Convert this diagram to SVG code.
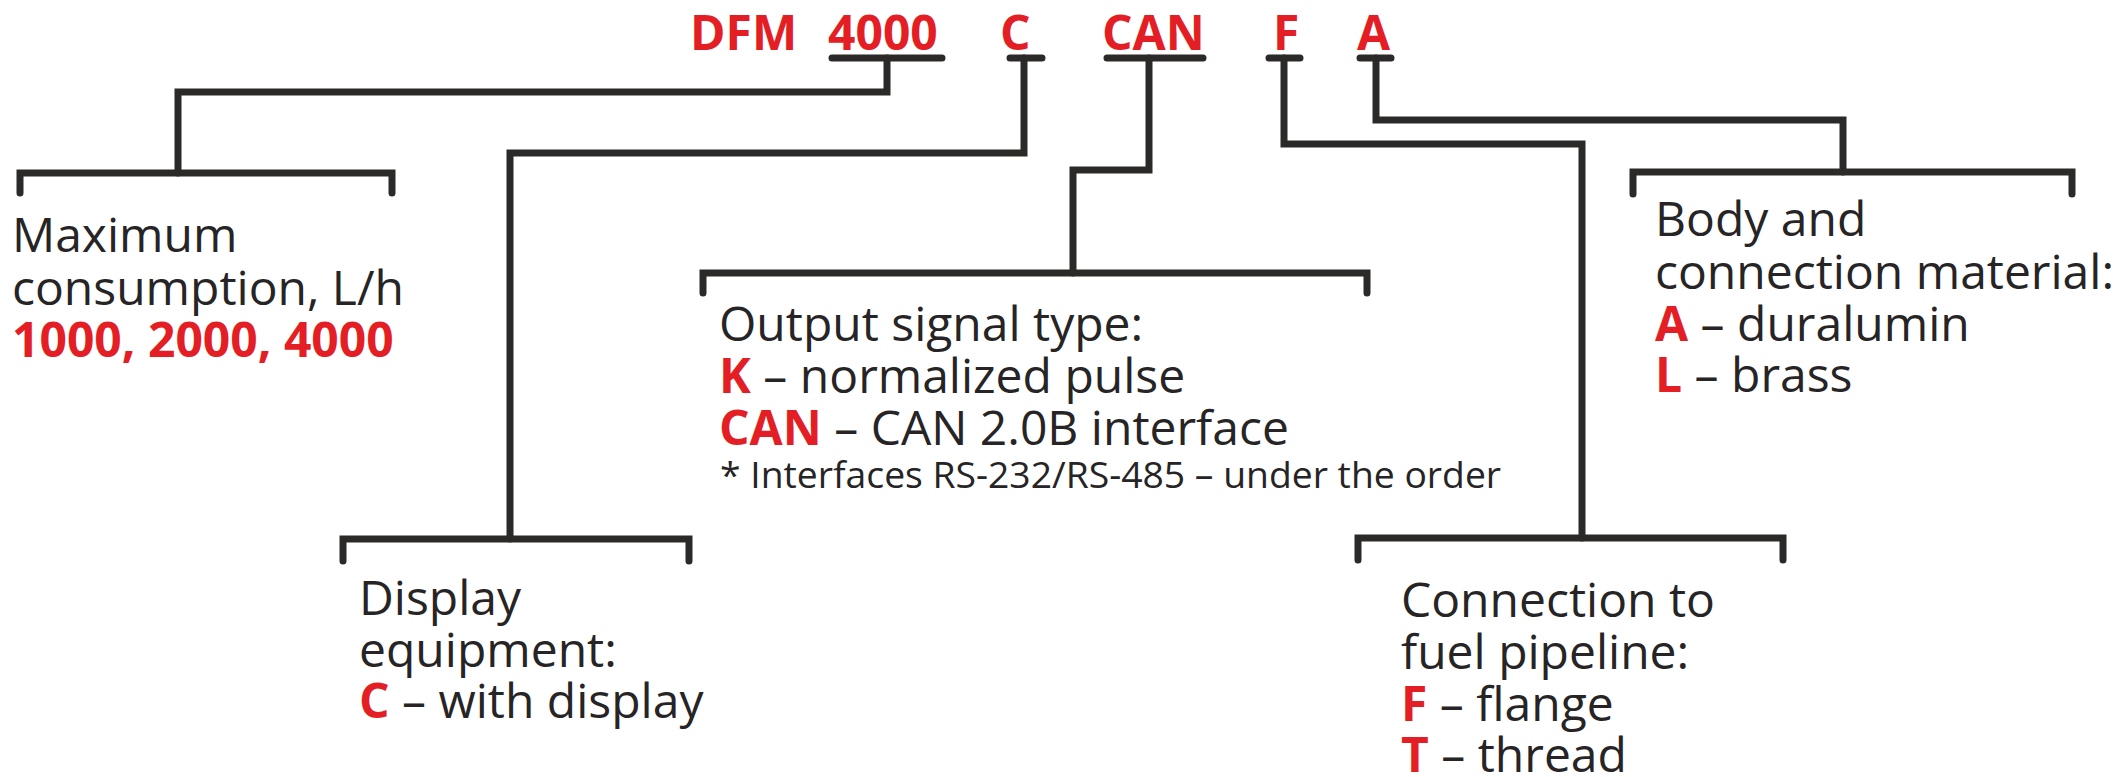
<svg xmlns="http://www.w3.org/2000/svg" width="2120" height="777" viewBox="0 0 2120 777">
<style>
.ln{fill:none;stroke:#2b2a28;stroke-width:7;stroke-linecap:round;stroke-linejoin:miter}
.t{font-family:"Open Sans","Noto Sans","Liberation Sans",sans-serif;font-size:48px;fill:#262425}
.s{font-size:37.3px}
.r{fill:#e31e24;font-weight:700}
</style>
<rect width="2120" height="777" fill="#ffffff"/>
<g id="code">
<text class="t r" x="690" y="50">DFM</text>
<text class="t r" x="828" y="50">4000</text>
<text class="t r" x="1000" y="50">C</text>
<text class="t r" x="1102" y="50">CAN</text>
<text class="t r" x="1273" y="50">F</text>
<text class="t r" x="1357" y="50">A</text>
<path class="ln" d="M832 58H942M1010 58H1042M1107 58H1203M1269 58H1300M1360 58H1391"/>
</g>
<g id="connectors">
<path class="ln" d="M887 58V92H178V173"/>
<path class="ln" d="M1024 58V153H510V539"/>
<path class="ln" d="M1149 58V170H1073V273"/>
<path class="ln" d="M1284 58V144H1582V538"/>
<path class="ln" d="M1376 58V120H1843V172"/>
</g>
<g id="node-consumption">
<path class="ln" d="M20 193V173H392V193"/>
<text class="t" x="12" y="252">Maximum</text>
<text class="t" x="12" y="305">consumption, L/h</text>
<text class="t r" x="12" y="357">1000, 2000, 4000</text>
</g>
<g id="node-display">
<path class="ln" d="M343 561V539H689V561"/>
<text class="t" x="359" y="615">Display</text>
<text class="t" x="359" y="667">equipment:</text>
<text class="t" x="359" y="718"><tspan class="r">C</tspan> – with display</text>
</g>
<g id="node-output">
<path class="ln" d="M703 293V273H1367V293"/>
<text class="t" x="719" y="341">Output signal type:</text>
<text class="t" x="719" y="393"><tspan class="r">K</tspan> – normalized pulse</text>
<text class="t" x="719" y="445"><tspan class="r">CAN</tspan> – CAN 2.0B interface</text>
<text class="t s" x="720" y="488">* Interfaces RS-232/RS-485 – under the order</text>
</g>
<g id="node-connection">
<path class="ln" d="M1358 560V538H1783V560"/>
<text class="t" x="1401" y="617">Connection to</text>
<text class="t" x="1401" y="669">fuel pipeline:</text>
<text class="t" x="1401" y="721"><tspan class="r">F</tspan> – flange</text>
<text class="t" x="1401" y="772"><tspan class="r">T</tspan> – thread</text>
</g>
<g id="node-material">
<path class="ln" d="M1633 194V172H2072V194"/>
<text class="t" x="1655" y="236">Body and</text>
<text class="t" x="1655" y="289">connection material:</text>
<text class="t" x="1655" y="341"><tspan class="r">A</tspan> – duralumin</text>
<text class="t" x="1655" y="392"><tspan class="r">L</tspan> – brass</text>
</g>
</svg>
